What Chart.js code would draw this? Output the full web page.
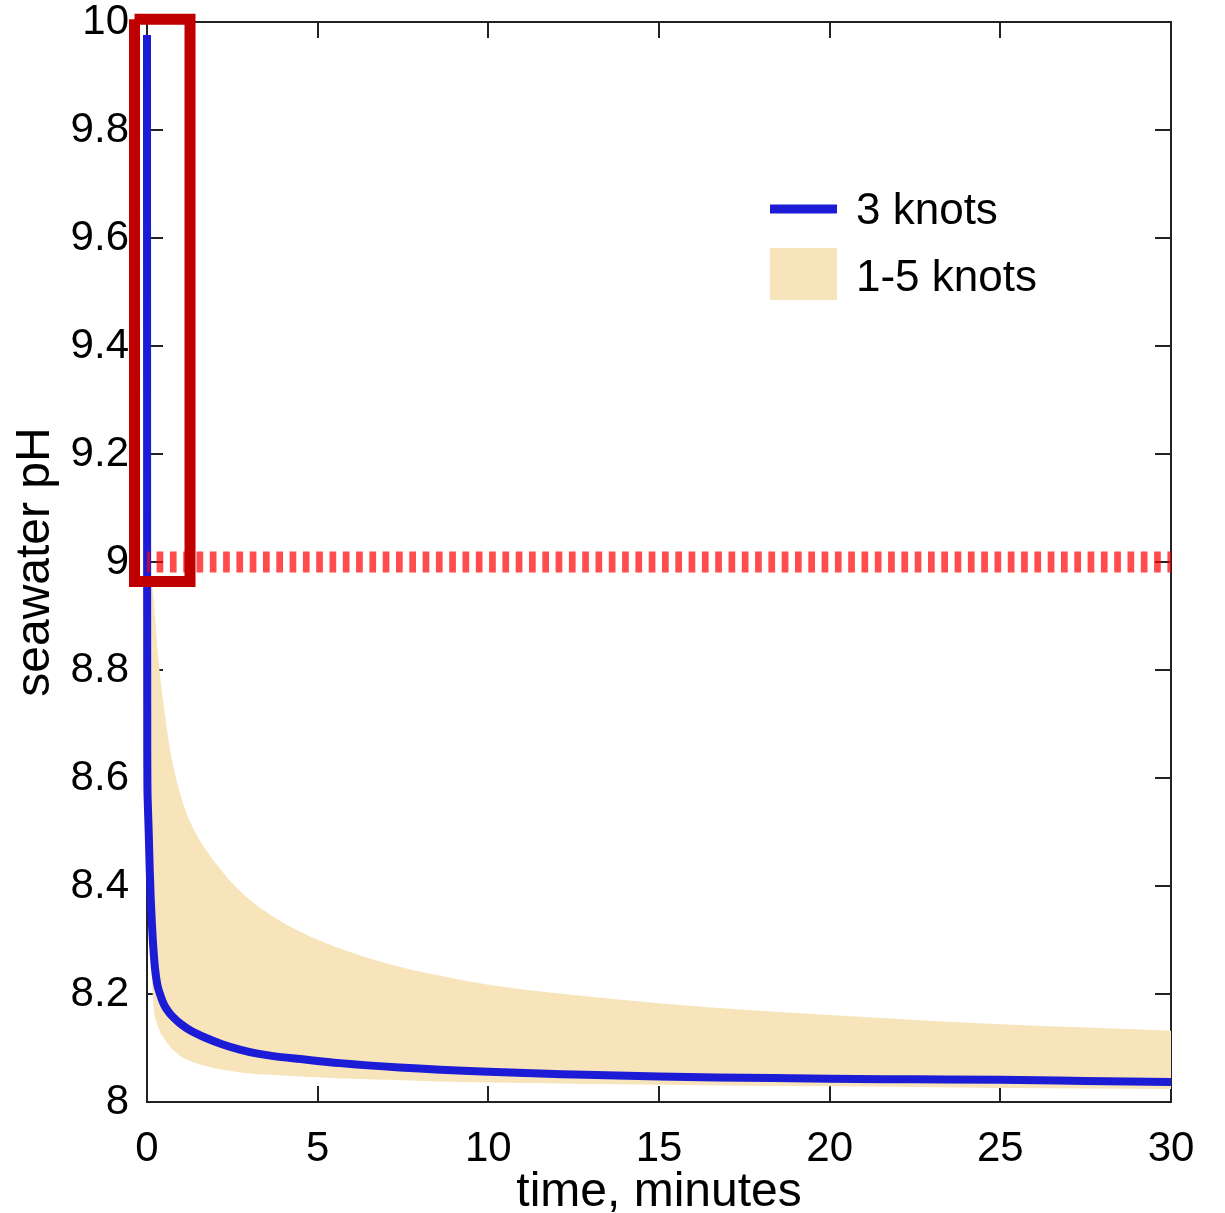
<html>
<head>
  <meta charset="utf-8">
  <title>Seawater pH</title>
  <script src="https://cdn.jsdelivr.net/npm/chart.js@4.4.1/dist/chart.umd.min.js"></script>
  <style>
    body { margin: 0; background: #fff; }
  </style>
</head>
<body>

<canvas id="myChart" width="1225" height="1213"></canvas>

<script>

// 3 knots curve
const blueTime = [0, 0.004, 0.008, 0.02, 0.05, 0.08, 0.11, 0.14, 0.17, 0.2, 0.23, 0.3, 0.38, 0.5, 0.62, 0.77, 1.0, 1.26, 1.75, 2.2, 2.72, 3.2, 3.7, 4.5, 5.65, 7.4, 10, 12.5, 15, 17.5, 20, 22.5, 25, 27.5, 30];
const bluePH = [9.976, 9.0, 8.65, 8.56, 8.5, 8.43, 8.375, 8.335, 8.30, 8.273, 8.25, 8.218, 8.2, 8.18, 8.168, 8.157, 8.144, 8.133, 8.118, 8.107, 8.097, 8.09, 8.085, 8.0795, 8.072, 8.064, 8.056, 8.051, 8.047, 8.045, 8.043, 8.042, 8.041, 8.039, 8.037];

// 1-5 knots band (upper and lower edges)
const bandTime = [0, 0.03, 0.06, 0.1, 0.2, 0.3, 0.4, 0.5, 0.67, 0.85, 1.0, 1.2, 1.5, 1.75, 2.1, 2.5, 3.0, 3.7, 4.5, 5.5, 7, 8.5, 10, 12.5, 15, 17.5, 20, 22.5, 25, 27.5, 30];
const bandUpper = [9.0, 8.995, 8.988, 8.975, 8.93, 8.845, 8.78, 8.73, 8.655, 8.6, 8.565, 8.528, 8.49, 8.465, 8.435, 8.405, 8.375, 8.343, 8.315, 8.288, 8.257, 8.235, 8.217, 8.198, 8.183, 8.171, 8.161, 8.152, 8.144, 8.138, 8.132];
const bandLower = [8.6, 8.45, 8.36, 8.285, 8.172, 8.145, 8.128, 8.118, 8.103, 8.092, 8.084, 8.078, 8.071, 8.066, 8.061, 8.057, 8.053, 8.05, 8.047, 8.044, 8.041, 8.038, 8.036, 8.034, 8.032, 8.03, 8.029, 8.028, 8.026, 8.025, 8.024];

// pH 9 threshold and the highlighted box (minutes / pH)
const thresholdPH = 9;
const boxTime = [-0.366, 1.26];
const boxPH = [8.964, 10.005];

const xTicks = [0, 30, 5];      // min, max, step
const yTicks = [8, 10, 0.2];

const FONT = 'Liberation Sans, Arial, Helvetica, sans-serif';

const pts = (xs, ys) => xs.map((x, i) => ({x: x, y: ys[i]}));

const boxPts = [
  {x: boxTime[0], y: boxPH[1]}, {x: boxTime[1], y: boxPH[1]},
  {x: boxTime[1], y: boxPH[0]}, {x: boxTime[0], y: boxPH[0]},
  {x: boxTime[0], y: boxPH[1]}
];

const frame = {
  id: 'frame',
  beforeDatasetsDraw(chart) {
    const {ctx, chartArea: a, scales: {x, y}} = chart;
    ctx.save();
    ctx.strokeStyle = '#222';
    ctx.lineWidth = 2;
    ctx.strokeRect(a.left, a.top, a.right - a.left, a.bottom - a.top);
    ctx.beginPath();
    for (const t of x.ticks) {
      const px = Math.round(x.getPixelForValue(t.value));
      ctx.moveTo(px, a.bottom); ctx.lineTo(px, a.bottom - 16);
      ctx.moveTo(px, a.top); ctx.lineTo(px, a.top + 16);
    }
    for (const t of y.ticks) {
      const py = Math.round(y.getPixelForValue(t.value));
      ctx.moveTo(a.left, py); ctx.lineTo(a.left + 16, py);
      ctx.moveTo(a.right, py); ctx.lineTo(a.right - 16, py);
    }
    ctx.stroke();
    ctx.restore();
  },
  afterDraw(chart) {
    // legend inside the plot
    const {ctx} = chart;
    const ds = chart.data.datasets;
    ctx.save();
    ctx.strokeStyle = ds[2].borderColor;
    ctx.lineWidth = 9;
    ctx.beginPath();
    ctx.moveTo(770, 209); ctx.lineTo(837, 209);
    ctx.stroke();
    ctx.fillStyle = ds[3].backgroundColor;
    ctx.fillRect(770, 248, 67, 52);
    ctx.fillStyle = '#000';
    ctx.font = '44px ' + FONT;
    ctx.textBaseline = 'middle';
    ctx.fillText(ds[2].label, 856, 212);
    ctx.fillText(ds[3].label, 856, 279);
    ctx.restore();
  }
};

const data = {
  datasets: [{
    label: 'box',
    data: boxPts,
    borderColor: 'rgb(192, 0, 0)',
    borderWidth: 11,
    borderJoinStyle: 'miter',
    pointRadius: 0,
    fill: false,
    clip: false
  },
  {
    label: 'pH 9',
    data: [{x: xTicks[0], y: thresholdPH}, {x: xTicks[1], y: thresholdPH}],
    borderColor: 'rgba(255, 0, 0, 0.7)',
    borderWidth: 21,
    borderDash: [6.7, 6.6],
    borderDashOffset: 3.7,
    pointRadius: 0,
    fill: false
  },
  {
    label: '3 knots',
    data: pts(blueTime, bluePH),
    borderColor: 'rgb(28, 28, 215)',
    borderWidth: 8,
    borderJoinStyle: 'round',
    cubicInterpolationMode: 'monotone',
    pointRadius: 0,
    fill: false,
    clip: 6
  },
  {
    label: '1-5 knots',
    data: pts(bandTime, bandUpper),
    borderWidth: 0,
    borderColor: 'rgba(0,0,0,0)',
    backgroundColor: 'rgb(247, 228, 187)',
    cubicInterpolationMode: 'monotone',
    pointRadius: 0,
    fill: '+1'
  },
  {
    label: '1-5 knots lower',
    data: pts(bandTime, bandLower),
    borderWidth: 0,
    borderColor: 'rgba(0,0,0,0)',
    cubicInterpolationMode: 'monotone',
    pointRadius: 0,
    fill: false
  }]
};

const config = {
  type: 'line',
  data,
  plugins: [frame],
  options: {
    responsive: false,
    devicePixelRatio: 1,
    animation: false,
    layout: {
      autoPadding: false,
      padding: {top: 22, right: 54, left: 0, bottom: 0}
    },
    plugins: {
      legend: {display: false},
      tooltip: {enabled: false}
    },
    scales: {
      x: {
        type: 'linear',
        min: xTicks[0],
        max: xTicks[1],
        grid: {display: false},
        border: {display: false},
        ticks: {
          stepSize: xTicks[2],
          color: '#000',
          padding: 14,
          maxRotation: 0,
          font: {family: FONT, size: 42}
        },
        title: {
          display: true,
          text: 'time, minutes',
          color: '#000',
          font: {family: FONT, size: 48, lineHeight: 0.8},
          padding: {top: 0, bottom: 1}
        },
        afterFit(scale) {
          scale.height = 111;
          scale.paddingLeft = 0;
          scale.paddingRight = 0;
        }
      },
      y: {
        min: yTicks[0],
        max: yTicks[1],
        grid: {display: false},
        border: {display: false},
        ticks: {
          stepSize: yTicks[2],
          color: '#000',
          padding: 10,
          font: {family: FONT, size: 42},
          callback: v => String(Math.round(v * 10) / 10)
        },
        title: {
          display: true,
          text: 'seawater pH',
          color: '#000',
          font: {family: FONT, size: 48, lineHeight: 0.8},
          padding: {top: 17, bottom: 0}
        },
        afterFit(scale) {
          scale.width = 147;
          scale.paddingTop = 0;
          scale.paddingBottom = 0;
        }
      }
    }
  }
};

var myChart = new Chart(
  document.getElementById('myChart'),
  config
);

</script>

</body>
</html>
